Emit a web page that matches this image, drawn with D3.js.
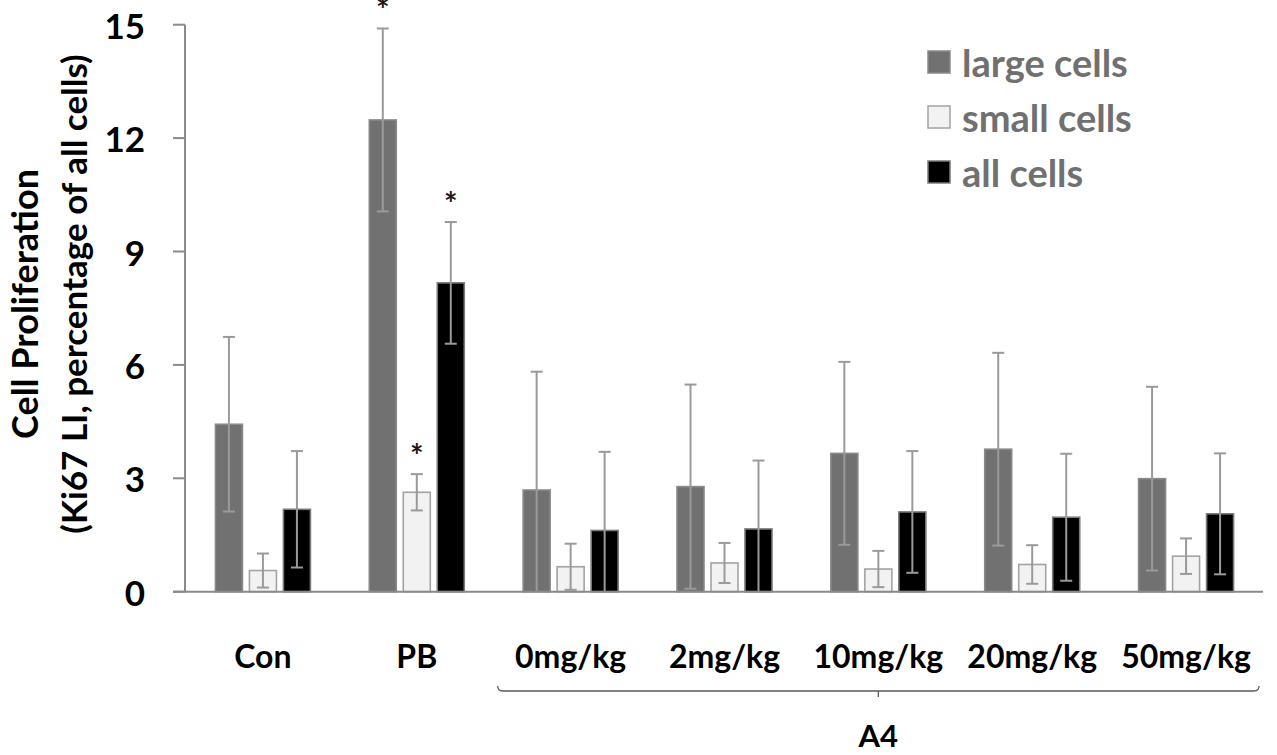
<!DOCTYPE html>
<html>
<head>
<meta charset="utf-8">
<script src="https://cdn.jsdelivr.net/npm/d3@7"></script>
<style>
  html, body { margin: 0; padding: 0; background: #fff; }
  svg { display: block; }
  text { font-family: Lato, "Open Sans", sans-serif; font-weight: 700; }
</style>
</head>
<body>
<svg id="chart" width="1277" height="755"></svg>
<script>
// Groups along the x axis
const groups = ["Con", "PB", "0mg/kg", "2mg/kg", "10mg/kg", "20mg/kg", "50mg/kg"];
const series = ["large cells", "small cells", "all cells"];

// Ki67 labelling index (mean) and error (SD) per series
const largeMean = [4.43, 12.48, 2.69, 2.78, 3.66, 3.77, 2.99];
const largeErr  = [2.31, 2.42, 3.13, 2.70, 2.42, 2.55, 2.43];
const smallMean = [0.56, 2.63, 0.66, 0.76, 0.60, 0.72, 0.94];
const smallErr  = [0.45, 0.48, 0.61, 0.53, 0.48, 0.51, 0.47];
const allMean   = [2.18, 8.17, 1.62, 1.66, 2.11, 1.97, 2.06];
const allErr    = [1.54, 1.61, 2.08, 1.81, 1.61, 1.68, 1.60];

// Significance markers (asterisks)
const largeSig = [false, true, false, false, false, false, false];
const smallSig = [false, true, false, false, false, false, false];
const allSig   = [false, true, false, false, false, false, false];

const yTicks = [0, 3, 6, 9, 12, 15];
const yTitle = ["Cell Proliferation", "(Ki67 LI, percentage of all cells)"];
const bracketGroups = ["0mg/kg", "50mg/kg"];
const bracketLabel = "A4";

const seriesData = [
  { name: series[0], mean: largeMean, err: largeErr, sig: largeSig, fill: "#717171", stroke: "#8a8a8a" },
  { name: series[1], mean: smallMean, err: smallErr, sig: smallSig, fill: "#f2f2f2", stroke: "#a3a3a3" },
  { name: series[2], mean: allMean,   err: allErr,   sig: allSig,   fill: "#000000", stroke: "#7a7a7a" }
];

const svg = d3.select("#chart");
const axisColor = "#8a8a8a";
const errColor = "#9a9a9a";

const y = d3.scaleLinear().domain([0, 15]).range([591.7, 24.7]);
const x0 = d3.scaleBand().domain(groups).range([186, 1263]).paddingInner(0).paddingOuter(0);
const x1 = d3.scaleBand().domain(series).range([-47.5, 47.5]).paddingInner(7 / 34).paddingOuter(0);

// Y axis line and outward ticks
const axisX = x0.range()[0] - 1;
svg.append("line")
  .attr("x1", axisX).attr("x2", axisX)
  .attr("y1", y(15)).attr("y2", y(0))
  .attr("stroke", axisColor).attr("stroke-width", 2);

svg.selectAll(".ytick").data(yTicks).enter().append("line")
  .attr("x1", axisX - 12).attr("x2", axisX)
  .attr("y1", d => y(d)).attr("y2", d => y(d))
  .attr("stroke", axisColor).attr("stroke-width", 2);

svg.selectAll(".ylabel").data(yTicks).enter().append("text")
  .attr("x", axisX - 40).attr("y", d => y(d))
  .attr("text-anchor", "end").attr("dominant-baseline", "central")
  .attr("font-size", 35).attr("fill", "#000")
  .text(d => d);

// Y axis title (two lines, rotated)
const titleLayout = [{ cx: 304, base: 38, size: 36 }, { cx: 294, base: 87, size: 35 }];
yTitle.forEach((t, i) => {
  const L = titleLayout[i];
  svg.append("text")
    .attr("transform", `translate(${L.base},${L.cx}) rotate(-90)`)
    .attr("text-anchor", "middle")
    .attr("font-size", L.size).attr("fill", "#000")
    .text(t);
});

// Bars
const groupSel = svg.selectAll(".group").data(groups).enter().append("g")
  .attr("transform", g => `translate(${x0(g) + x0.bandwidth() / 2},0)`);

seriesData.forEach(s => {
  groupSel.append("rect")
    .attr("x", (g, i) => x1(s.name))
    .attr("y", (g, i) => y(s.mean[i]))
    .attr("width", x1.bandwidth())
    .attr("height", (g, i) => y(0) - y(s.mean[i]))
    .attr("fill", s.fill)
    .attr("stroke", s.stroke).attr("stroke-width", 1.6);
});

// X axis baseline
svg.append("line")
  .attr("x1", axisX - 12).attr("x2", x0.range()[1])
  .attr("y1", y(0)).attr("y2", y(0))
  .attr("stroke", axisColor).attr("stroke-width", 2);

// Error bars and asterisks
const capHalf = 6;
seriesData.forEach(s => {
  groupSel.each(function (g, i) {
    const gg = d3.select(this);
    const cx = x1(s.name) + x1.bandwidth() / 2;
    const hi = s.mean[i] + s.err[i];
    const loRaw = s.mean[i] - s.err[i];
    const lo = Math.max(0, loRaw);
    gg.append("line")
      .attr("x1", cx).attr("x2", cx)
      .attr("y1", y(hi)).attr("y2", y(lo))
      .attr("stroke", errColor).attr("stroke-width", 2);
    gg.append("line")
      .attr("x1", cx - capHalf).attr("x2", cx + capHalf)
      .attr("y1", y(hi)).attr("y2", y(hi))
      .attr("stroke", errColor).attr("stroke-width", 2);
    if (loRaw >= 0) {
      gg.append("line")
        .attr("x1", cx - capHalf).attr("x2", cx + capHalf)
        .attr("y1", y(lo)).attr("y2", y(lo))
        .attr("stroke", errColor).attr("stroke-width", 2);
    }
    if (s.sig[i]) {
      gg.append("text")
        .attr("x", cx).attr("y", y(hi) - 6)
        .attr("text-anchor", "middle")
        .attr("font-family", "'Liberation Sans', Arial, sans-serif")
        .attr("font-weight", 400)
        .attr("font-size", 32).attr("fill", "#1a1a1a")
        .text("*");
    }
  });
});

// Group labels
svg.selectAll(".xlabel").data(groups).enter().append("text")
  .attr("x", g => x0(g) + x0.bandwidth() / 2)
  .attr("y", 668)
  .attr("text-anchor", "middle")
  .attr("font-size", 32).attr("fill", "#000")
  .text(g => g);

// Bracket spanning the A4 dose groups
const bx1 = x0(bracketGroups[0]) + 4;
const bx2 = x0(bracketGroups[1]) + x0.bandwidth() - 4;
const by = 691;
const bmid = (bx1 + bx2) / 2;
svg.append("path")
  .attr("d", `M${bx1},${by - 5} Q${bx1},${by} ${bx1 + 5},${by} L${bx2 - 5},${by} Q${bx2},${by} ${bx2},${by - 5} M${bmid},${by} L${bmid},${by + 6}`)
  .attr("fill", "none").attr("stroke", "#5a5a5a").attr("stroke-width", 1.3);

svg.append("text")
  .attr("x", bmid).attr("y", 747)
  .attr("text-anchor", "middle")
  .attr("font-size", 31).attr("fill", "#000")
  .text(bracketLabel);

// Legend
const legend = svg.append("g");
seriesData.forEach((s, i) => {
  const cy = 62 + i * 55;
  legend.append("rect")
    .attr("x", 928).attr("y", cy - 11)
    .attr("width", 22).attr("height", 22)
    .attr("fill", s.fill).attr("stroke", s.stroke).attr("stroke-width", 1.5);
  legend.append("text")
    .attr("x", 962).attr("y", cy)
    .attr("dominant-baseline", "central")
    .attr("font-size", 38).attr("fill", "#707070")
    .text(s.name);
});
</script>
</body>
</html>
